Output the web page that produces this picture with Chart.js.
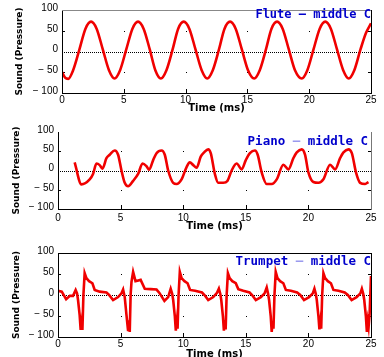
<!DOCTYPE html>
<html><head><meta charset="utf-8">
<script src="https://cdn.jsdelivr.net/npm/chart.js@4/dist/chart.umd.min.js"></script>
<style>
html,body{margin:0;padding:0;background:#fff;width:384px;height:357px;overflow:hidden;position:relative}
.p{position:absolute;left:0;width:384px}
canvas{display:block}
</style></head><body>
<div class="p" style="top:0"><canvas id="c1" width="384" height="118"></canvas></div>
<div class="p" style="top:118px"><canvas id="c2" width="384" height="118"></canvas></div>
<div class="p" style="top:236px"><canvas id="c3" width="384" height="128"></canvas></div>
<script>
// ---- data ----
const xTickValues = [0, 5, 10, 15, 20, 25];
const yTickValues = [-100, -50, 0, 50, 100];
const gridXValues = [5, 10, 15, 20];
const gridYValues = [-50, 50];

const fluteTime = [0.0,0.25,0.5,0.9,1.4,1.9,2.35,2.8,3.3,3.8,4.25,4.7,5.2,5.7,6.15,6.6,7.1,7.55,8.0,8.45,8.95,9.4,9.85,10.3,10.8,11.3,11.75,12.2,12.7,13.15,13.6,14.05,14.55,15.05,15.55,16.0,16.5,16.95,17.4,17.85,18.35,18.85,19.4,19.85,20.35,20.85,21.3,21.75,22.25,22.75,23.2,23.65,24.15,24.6,25.0];
const fluteSound = [-50,-63,-66,-45,4,55,72,55,5,-45,-65,-45,5,55,72,55,5,-45,-65,-45,5,55,72,55,5,-45,-65,-45,5,55,72,55,5,-45,-65,-45,5,55,72,55,5,-45,-65,-45,5,55,72,55,5,-45,-65,-45,5,45,68];

const pianoTime = [1.33,1.87,2.53,2.8,3.07,3.33,3.55,3.87,4.13,4.53,4.8,5.07,5.33,5.6,6.0,6.4,6.75,7.07,7.28,7.6,7.87,8.27,8.53,8.8,9.2,9.47,9.87,10.27,10.53,10.8,11.07,11.4,11.67,12.0,12.2,12.53,12.8,13.2,13.53,13.87,14.27,14.67,15.0,15.33,15.73,15.95,16.27,16.67,17.07,17.47,18.0,18.4,18.8,19.07,19.47,19.73,20.0,20.4,20.8,21.2,21.73,22.13,22.53,22.8,23.2,23.47,23.8,24.13,24.53,24.8];
const pianoSound = [21,-36,-23,-9,18,14,5,32,41,52,41,0,-32,-41,-27,-9,18,11,2,27,45,52,41,0,-32,-35,-23,9,21,14,7,36,47,55,45,-9,-32,-32,-27,0,18,3,27,45,52,41,-5,-35,-35,-23,15,3,32,47,55,41,-5,-30,-32,-23,15,3,32,47,55,45,-5,-32,-35,-30];

const trumpetTime = [0,0.3,0.65,0.95,1.2,1.41,1.52,1.6,1.73,1.81,1.89,1.95,2.03,2.13,2.27,2.48,2.75,2.93,3.33,3.87,4.08,4.4,4.8,5.07,
  5.2,5.33,5.47,5.6,5.68,5.73,5.8,5.87,6.0,6.19,6.6,6.93,7.4,7.87,8.1,8.5,8.8,
  9.0,9.12,9.2,9.33,9.41,9.49,9.55,9.63,9.73,9.87,10.1,10.35,10.55,10.95,11.5,11.7,12.0,12.4,12.7,
  12.85,12.96,13.04,13.17,13.25,13.33,13.39,13.47,13.57,13.71,13.92,14.2,14.4,14.8,15.3,15.5,15.8,16.2,16.5,
  16.67,16.78,16.86,16.99,17.07,17.15,17.21,17.29,17.39,17.53,17.74,18.0,18.2,18.6,19.1,19.35,19.65,20.05,20.35,
  20.48,20.59,20.67,20.8,20.88,20.96,21.02,21.1,21.2,21.34,21.55,21.8,22.0,22.4,22.9,23.15,23.45,23.85,24.15,
  24.27,24.38,24.46,24.59,24.67,24.75,24.81,24.89,24.97,25.0];
const trumpetSound = [10,8,-10,-2,-2,12,4,-12,-48,-83,-64,-83,0,52,40,33,28,12,8,6,0,-12,-5,4,
  13,-5,-48,-86,-60,-88,0,31,55,33,36,15,14,13,5,-14,-5,
  15,3,-12,-50,-85,-62,-80,0,55,40,33,28,12,10,6,0,-12,-5,5,
  15,3,-12,-50,-85,-60,-82,0,52,40,33,28,14,10,6,0,-12,-5,4,
  18,3,-12,-50,-88,-62,-80,0,55,40,33,28,12,10,6,0,-12,-5,4,
  15,3,-12,-50,-82,-62,-80,0,52,40,33,28,12,10,6,0,-12,-5,4,
  15,3,-12,-50,-88,-62,-75,-45,20,45];

// ---- drawing ----
const TICK_FONT = {family:'"Liberation Sans", Arial, sans-serif', size:10};
const XTITLE_FONT = {family:'"DejaVu Sans", sans-serif', size:10, weight:'bold'};
const YTITLE_FONT = {family:'"DejaVu Sans", sans-serif', size:9, weight:'bold'};

const decor = {
  id:'decor',
  beforeDatasetsDraw(chart){
    const {ctx, chartArea:a, scales:{x,y}} = chart;
    ctx.save();
    ctx.fillStyle = '#000';
    const zy = Math.round(y.getPixelForValue(0));
    for (let px = a.left + 2; px < a.right; px += 2) ctx.fillRect(px, zy, 1, 1);
    for (const gx of gridXValues){
      const px = Math.round(x.getPixelForValue(gx));
      for (const gy of gridYValues) ctx.fillRect(px, Math.round(y.getPixelForValue(gy)), 1, 1);
      ctx.fillRect(px, a.bottom - 4, 1, 4);
    }
    for (const gy of gridYValues){
      const py = Math.round(y.getPixelForValue(gy));
      ctx.fillRect(a.left, py, 3, 1);
      ctx.fillRect(a.right - 3, py, 3, 1);
    }
    ctx.restore();
  },
  afterDatasetsDraw(chart){
    const o = chart.options.plugins.decor;
    const {ctx, chartArea:a} = chart;
    ctx.save();
    ctx.fillStyle = '#000';
    ctx.fillRect(a.left, a.top, 1, a.bottom - a.top + 1);
    ctx.fillRect(a.left, a.bottom, a.right - a.left + 1, 1);
    if (o.topColor){ ctx.fillStyle = o.topColor; ctx.fillRect(a.left, a.top, a.right - a.left + 1, 1); }
    if (o.rightColor){ ctx.fillStyle = o.rightColor; ctx.fillRect(a.right, a.top, 1, a.bottom - a.top + 1); }
    ctx.font = 'bold ' + o.titleSize + 'px "DejaVu Sans Mono", monospace';
    ctx.textBaseline = 'alphabetic';
    ctx.textAlign = 'left';
    let w = 0;
    for (const [t] of o.title) w += ctx.measureText(t).width;
    let px = o.titleRight - w;
    for (const [t, c] of o.title){ ctx.fillStyle = c; ctx.fillText(t, px, o.titleBase); px += ctx.measureText(t).width; }
    ctx.restore();
  }
};

function makeChart(id, P){
  const points = P.t.map((t, i) => ({x:t, y:P.v[i]}));
  return new Chart(document.getElementById(id), {
    type:'line',
    data:{datasets:[{data:points, borderColor:'#f00000', borderWidth:2.6, pointRadius:0,
      tension:P.smooth ? 0.4 : 0, cubicInterpolationMode:P.smooth ? 'monotone' : 'default', fill:false}]},
    options:{
      responsive:false, animation:false, events:[],
      layout:{autoPadding:false, padding:{top:P.top, right:384 - P.right, left:0, bottom:0}},
      plugins:{legend:{display:false}, tooltip:{enabled:false}, decor:P.decor},
      scales:{
        x:{type:'linear', min:0, max:25,
          afterBuildTicks(s){ s.ticks = xTickValues.map(v => ({value:v})); },
          afterFit(s){ s.height = P.H - P.bottom; },
          grid:{display:false, drawTicks:false, tickLength:0}, border:{display:false},
          ticks:{font:TICK_FONT, color:'#000', padding:P.xPad, maxRotation:0, autoSkip:false},
          title:{display:true, text:'Time (ms)', font:XTITLE_FONT, color:'#000', padding:{top:0, bottom:P.xTitlePad}}},
        y:{type:'linear', min:-100, max:100,
          afterBuildTicks(s){ s.ticks = yTickValues.map(v => ({value:v})); },
          afterFit(s){ s.width = P.left; },
          grid:{display:false, drawTicks:false, tickLength:0}, border:{display:false},
          ticks:{font:TICK_FONT, color:'#000', padding:4, labelOffset:-2,
            callback:v => v < 0 ? '\u2212 ' + (-v) : String(v)},
          title:{display:true, text:'Sound (Pressure)', font:YTITLE_FONT, color:'#000', padding:{top:P.yTitlePad, bottom:0}}}
      }
    },
    plugins:[decor]
  });
}

const BLUE = '#0000cc', LIGHT = '#9a9aee';
makeChart('c1', {t:fluteTime, v:fluteSound, smooth:true, H:118, left:62, right:371, top:6, bottom:93, xPad:1, xTitlePad:4, yTitlePad:14,
  decor:{topColor:'#888', rightColor:'#000', title:[['Flute \u2013 middle C', BLUE]], titleRight:371, titleBase:18, titleSize:12}});
makeChart('c2', {t:pianoTime, v:pianoSound, smooth:true, H:118, left:58, right:371, top:14, bottom:91, xPad:3, xTitlePad:4, yTitlePad:11,
  decor:{topColor:null, rightColor:'#777', title:[['Piano ', BLUE], ['\u2013', LIGHT], [' middle C', BLUE]], titleRight:368, titleBase:27, titleSize:12.5}});
makeChart('c3', {t:trumpetTime, v:trumpetSound, smooth:false, H:128, left:58, right:371, top:17, bottom:101, xPad:1, xTitlePad:4, yTitlePad:11,
  decor:{topColor:'#000', rightColor:'#000', title:[['Trumpet ', BLUE], ['\u2013', LIGHT], [' middle C', BLUE]], titleRight:371, titleBase:29, titleSize:12.5}});
</script>
</body></html>
